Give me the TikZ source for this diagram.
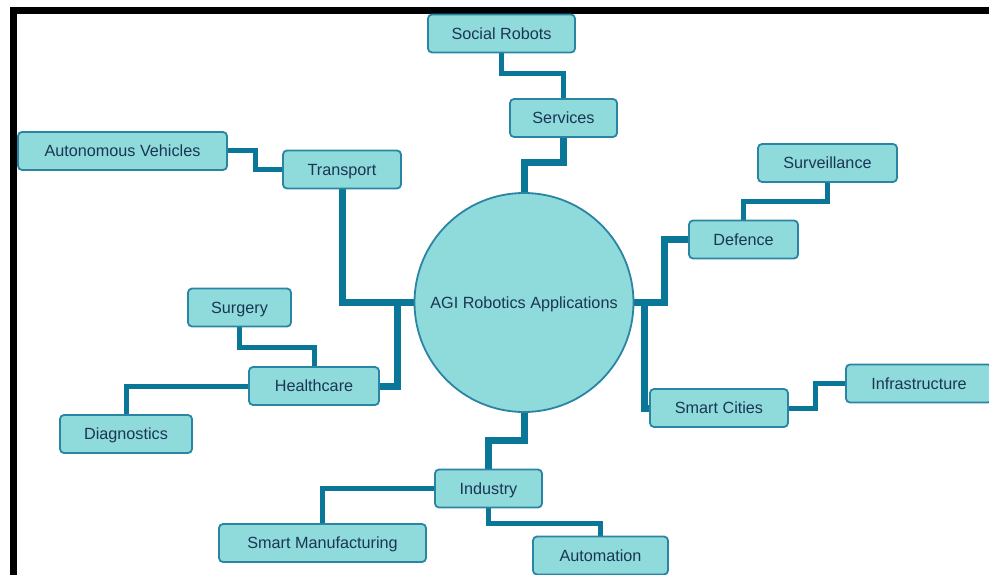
\documentclass[tikz,border=0pt]{standalone}
\usepackage{fontspec}
\setmainfont{Liberation Sans}
\usetikzlibrary{backgrounds}

\definecolor{nodefill}{HTML}{8FDADB}
\definecolor{nodeedge}{HTML}{2A84A3}
\definecolor{linkblue}{HTML}{0A7799}
\definecolor{labeltext}{HTML}{1A3654}

\begin{document}
\begin{tikzpicture}
	% style
	[x=1pt, y=-1pt,
	hub/.style={circle, draw=nodeedge, fill=nodefill, line width=1.8pt, inner sep=0pt, minimum size=219pt, text=labeltext, text height=11.5pt, text depth=0pt, font=\fontsize{16.2}{19}\selectfont},
	topic/.style={rectangle, rounded corners=4pt, draw=nodeedge, fill=nodefill, line width=1.8pt, inner sep=0pt, minimum height=38pt, text=labeltext, text height=11.5pt, text depth=0pt, font=\fontsize{16.2}{19}\selectfont},
	branch/.style={draw=linkblue, line width=7pt},
	twig/.style={draw=linkblue, line width=5pt},
	outerframe/.style={draw=black, line width=7pt}]

	\useasboundingbox (0,0) rectangle (989,575);
	\draw[outerframe] (13.5,575) -- (13.5,10.5) -- (989,10.5);

	% centre
	\node [hub] (hub) at (524,302.5) {AGI Robotics Applications};

	% top
	\node [topic, minimum width=147pt] (social) at (501.5,33.5) {Social Robots};
	\node [topic, minimum width=107pt] (services) at (563.5,118) {Services};

	% left
	\node [topic, minimum width=118pt] (transport) at (342,169.5) {Transport};
	\node [topic, minimum width=209pt] (vehicles) at (122.5,151) {Autonomous Vehicles};
	\node [topic, minimum width=130pt] (health) at (314,386) {Healthcare};
	\node [topic, minimum width=103pt] (surgery) at (239.5,307.5) {Surgery};
	\node [topic, minimum width=132pt] (diag) at (126,434) {Diagnostics};

	% right
	\node [topic, minimum width=109pt] (defence) at (743.5,239.5) {Defence};
	\node [topic, minimum width=139pt] (surv) at (827.5,163) {Surveillance};
	\node [topic, minimum width=138pt] (cities) at (719,408) {Smart Cities};
	\node [topic, minimum width=146pt] (infra) at (919,383.5) {Infrastructure};

	% bottom
	\node [topic, minimum width=107pt] (industry) at (488.5,488.5) {Industry};
	\node [topic, minimum width=207pt] (manuf) at (322.5,543) {Smart Manufacturing};
	\node [topic, minimum width=135pt] (auto) at (600.5,555.5) {Automation};

	\begin{scope}[on background layer]
	\draw[branch] (hub.north)      -- ++(0,-30) -| (services.south);
	\draw[twig]   (services.north) -- ++(0,-25) -| (social.south);
	\draw[branch] (transport.south) |- (hub.west);
	\draw[branch] (health.east)    -- ++(18,0)  |- (hub.west);
	\draw[twig]   (vehicles.east)  -- ++(28,0)  |- (transport.west);
	\draw[twig]   (surgery.south)  -- ++(0,20)  -| (health.north);
	\draw[twig]   (health.west)    -| (diag.north);
	\draw[branch] (hub.east)       -- ++(30,0)  |- (defence.west);
	\draw[branch] (hub.east)       -- ++(10,0)  |- (cities.west);
	\draw[twig]   (surv.south)     -- ++(0,19)  -| (defence.north);
	\draw[twig]   (cities.east)    -- ++(27,0)  |- (infra.west);
	\draw[branch] (hub.south)      -- ++(0,28)  -| (industry.north);
	\draw[twig]   (industry.west)  -| (manuf.north);
	\draw[twig]   (industry.south) -- ++(0,15)  -| (auto.north);
	\end{scope}
\end{tikzpicture}
\end{document}
